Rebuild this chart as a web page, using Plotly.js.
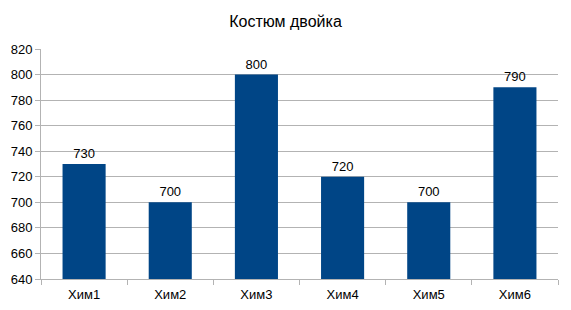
<!DOCTYPE html>
<html><head><meta charset="utf-8">
<script src="https://cdn.plot.ly/plotly-3.0.1.min.js"></script>
<style>html,body{margin:0;padding:0;background:#fff}#c{width:571px;height:310px}</style>
</head><body><div id="c"></div>
<script>
const categories = ["Хим1","Хим2","Хим3","Хим4","Хим5","Хим6"];
const values = [730,700,800,720,700,790];
const yTicks = [640,660,680,700,720,740,760,780,800,820];

Plotly.newPlot('c', [{
  type:'bar', x:categories, y:values,
  marker:{color:'#004586'},
  text:values.map(String), textposition:'outside', cliponaxis:false,
  textfont:{family:'Liberation Sans, Arial, sans-serif', size:13, color:'#000'}
}], {
  width:571, height:310,
  margin:{l:41, r:13, t:49, b:31},
  paper_bgcolor:'#fff', plot_bgcolor:'#fff',
  bargap:0.5,
  showlegend:false,
  font:{family:'Liberation Sans, Arial, sans-serif', size:13, color:'#000'},
  title:{text:'Костюм двойка', font:{size:16, color:'#000'}, x:0.5, xanchor:'center', y:0.932, yanchor:'middle'},
  xaxis:{type:'category', showgrid:false, showline:true, linecolor:'#b3b3b3', linewidth:1,
         ticks:'outside', tickson:'boundaries', ticklen:5, tickcolor:'#b3b3b3', tickfont:{size:13},
         ticklabelstandoff:3},
  yaxis:{range:[640,820], tickvals:yTicks, showgrid:true, gridcolor:'#b3b3b3', gridwidth:1,
         showline:true, linecolor:'#b3b3b3', ticks:'outside', ticklen:5, tickcolor:'#b3b3b3',
         zeroline:false, tickfont:{size:13}}
}, {displayModeBar:false, staticPlot:true});
</script></body></html>
